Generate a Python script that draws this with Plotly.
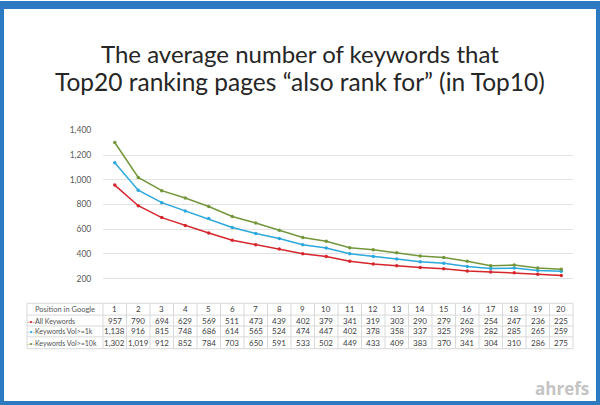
import plotly.graph_objects as go

positions = list(range(1, 21))
all_kw = [957, 790, 694, 629, 569, 511, 473, 439, 402, 379, 341, 319, 303, 290, 279, 262, 254, 247, 236, 225]
vol_1k = [1138, 916, 815, 748, 686, 614, 565, 524, 474, 447, 402, 378, 358, 337, 325, 298, 282, 285, 265, 259]
vol_10k = [1302, 1019, 912, 852, 784, 703, 650, 591, 533, 502, 449, 433, 409, 383, 370, 341, 304, 310, 286, 275]
series_names = ["All Keywords", "Keywords Vol>=1k", "Keywords Vol>=10k"]
colors = ["#d6262c", "#2ba8dc", "#73963a"]
y_ticks = [200, 400, 600, 800, 1000, 1200, 1400]

W, H = 600, 405
fig = go.Figure()

for name, vals, c in zip(series_names, [all_kw, vol_1k, vol_10k], colors):
    fig.add_trace(go.Scatter(x=positions, y=vals, name=name, mode="lines+markers",
                             line=dict(color=c, width=1.5),
                             marker=dict(color=c, size=3.5)))

# ---- data table under the plot (excel style) ----
def py(px):
    # pixel row from top -> paper y
    return (H - px) / H

row_mid = [308, 319.5, 330.5, 342]
row_lines = [302, 314, 325, 336, 348]
tleft, tsplit, tright = 27 / W, 103 / W, 573 / W
grid = "#d9d9d9"
cell_font = dict(family="Lato", size=8, color="#404040")

shapes = [dict(type="rect", xref="paper", yref="paper", x0=0, y0=0, x1=1, y1=1,
               line=dict(color="#2b7ac2", width=8))]
for r in row_lines:
    shapes.append(dict(type="line", xref="paper", yref="paper", x0=tleft, x1=tright,
                       y0=py(r), y1=py(r), line=dict(color=grid, width=1)))
for xp in [tleft, tsplit, tright]:
    shapes.append(dict(type="line", xref="paper", yref="paper", x0=xp, x1=xp,
                       y0=py(row_lines[0]), y1=py(row_lines[-1]), line=dict(color=grid, width=1)))
for p in positions[:-1]:
    shapes.append(dict(type="line", xref="x", yref="paper", x0=p + 0.5, x1=p + 0.5,
                       y0=py(row_lines[0]), y1=py(row_lines[-1]), line=dict(color=grid, width=1)))

annotations = [
    dict(text="The average number of keywords that", xref="paper", yref="paper",
         x=0.5, y=py(49), showarrow=False, xanchor="center", yanchor="middle",
         font=dict(family="Lato", size=24, color="#262626")),
    dict(text="Top20 ranking pages “also rank for” (in Top10)", xref="paper", yref="paper",
         x=0.5, y=py(77), showarrow=False, xanchor="center", yanchor="middle",
         font=dict(family="Lato", size=24.5, color="#262626")),
    dict(text="<b>ahrefs</b>", xref="paper", yref="paper", x=562 / W, y=py(388),
         showarrow=False, xanchor="center", yanchor="middle",
         font=dict(family="Open Sans", size=17, color="#c4c4c4")),
    dict(text="Position in Google", xref="paper", yref="paper", x=(tleft + tsplit) / 2, y=py(row_mid[0]),
         showarrow=False, xanchor="center", yanchor="middle",
         font=dict(family="Lato", size=7.5, color="#595959")),
]
for p in positions:
    annotations.append(dict(text=str(p), xref="x", yref="paper", x=p, y=py(row_mid[0]),
                            showarrow=False, yanchor="middle", font=cell_font))
for i, (name, vals, c) in enumerate(zip(series_names, [all_kw, vol_1k, vol_10k], colors)):
    ym = py(row_mid[i + 1])
    annotations.append(dict(text=f"<span style='color:{c};font-size:6px'>-•-</span>{name}",
                            xref="paper", yref="paper", x=tleft - 0.003, y=ym, showarrow=False,
                            xanchor="left", yanchor="middle",
                            font=dict(family="Lato", size=7, color="#505050")))
    for p, v in zip(positions, vals):
        annotations.append(dict(text=f"{v:,}", xref="x", yref="paper", x=p, y=ym,
                                showarrow=False, yanchor="middle", font=cell_font))

fig.update_layout(
    width=W, height=H, margin=dict(l=0, r=0, t=0, b=0),
    paper_bgcolor="white", plot_bgcolor="white", showlegend=False,
    xaxis=dict(domain=[tsplit, tright], range=[0.5, 20.5], showticklabels=False,
               showgrid=False, zeroline=False, showline=False),
    yaxis=dict(domain=[py(302), py(127)], range=[0, 1400], tickvals=y_ticks,
               tickformat=",d", showgrid=True, gridcolor="#e2e2e2", zeroline=False,
               ticks="outside", ticklen=9, tickcolor="rgba(0,0,0,0)",
               tickfont=dict(family="Lato", size=8.5, color="#595959")),
    shapes=shapes,
    annotations=annotations,
)

fig.write_html("out.html", config={"displayModeBar": False},
               post_script="document.body.style.margin='0';")
